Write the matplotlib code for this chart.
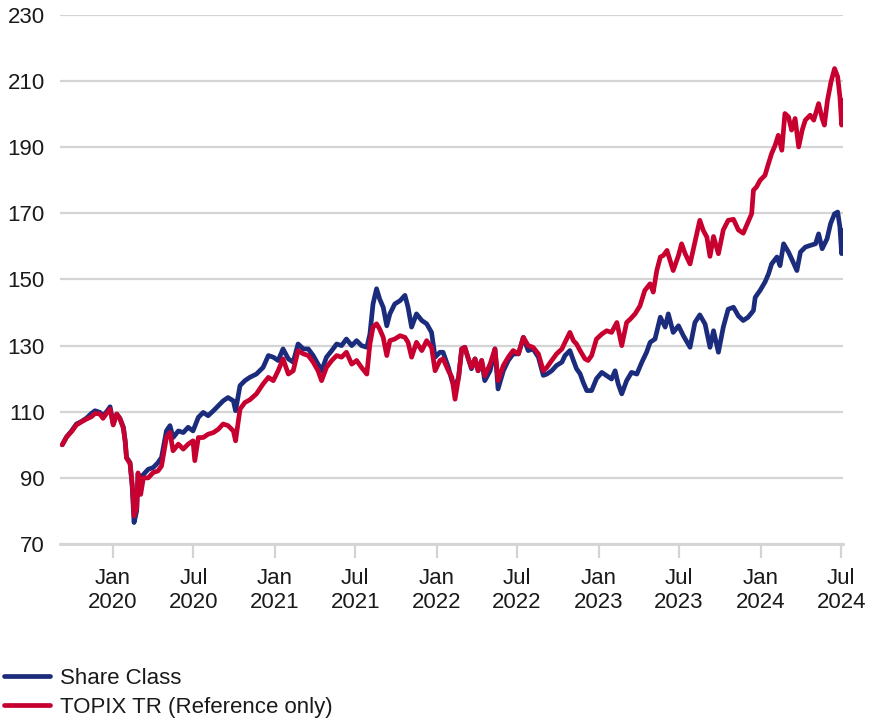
import matplotlib
matplotlib.use("Agg")
import matplotlib.pyplot as plt
import pandas as pd

plt.rcParams['font.family'] = ['Liberation Sans', 'DejaVu Sans']

share_dates = [
 "2019-09-09","2019-09-19","2019-09-30","2019-10-11","2019-10-23","2019-11-03","2019-11-14","2019-11-22",
 "2019-12-03","2019-12-10","2019-12-18","2019-12-26","2020-01-02","2020-01-10","2020-01-17","2020-01-25",
 "2020-01-29","2020-02-01","2020-02-09","2020-02-14","2020-02-18","2020-02-24","2020-02-27","2020-03-04",
 "2020-03-10","2020-03-21","2020-04-01","2020-04-12","2020-04-20","2020-05-01","2020-05-09","2020-05-16",
 "2020-05-28","2020-06-08","2020-06-19","2020-06-30","2020-07-12","2020-07-23","2020-08-03","2020-08-15",
 "2020-08-26","2020-09-06","2020-09-17","2020-09-29","2020-10-04","2020-10-14","2020-10-25","2020-11-05",
 "2020-11-20","2020-12-05","2020-12-17","2020-12-28","2021-01-08","2021-01-19","2021-01-31","2021-02-11",
 "2021-02-22","2021-03-06","2021-03-17","2021-03-28","2021-04-08","2021-04-16","2021-04-27","2021-05-09",
 "2021-05-20","2021-05-31","2021-06-11","2021-06-23","2021-07-04","2021-07-15","2021-07-27","2021-08-03",
 "2021-08-10","2021-08-18","2021-08-25","2021-09-02","2021-09-10","2021-09-17","2021-09-28","2021-10-10",
 "2021-10-21","2021-10-28","2021-11-05","2021-11-16","2021-11-28","2021-12-09","2021-12-20","2021-12-28",
 "2022-01-08","2022-01-15","2022-01-27","2022-02-04","2022-02-11","2022-02-19","2022-02-26","2022-03-05",
 "2022-03-13","2022-03-20","2022-03-28","2022-04-04","2022-04-12","2022-04-19","2022-05-01","2022-05-12",
 "2022-05-19","2022-05-31","2022-06-11","2022-06-22","2022-07-04","2022-07-15","2022-07-26","2022-08-06",
 "2022-08-18","2022-08-29","2022-09-06","2022-09-17","2022-09-28","2022-10-10","2022-10-17","2022-10-28",
 "2022-11-05","2022-11-12","2022-11-20","2022-11-27","2022-12-05","2022-12-16","2022-12-27","2023-01-08",
 "2023-01-19","2023-01-30","2023-02-07","2023-02-14","2023-02-22","2023-03-05","2023-03-16","2023-03-28",
 "2023-04-08","2023-04-19","2023-04-27","2023-05-08","2023-05-20","2023-05-31","2023-06-07","2023-06-18",
 "2023-06-30","2023-07-11","2023-07-26","2023-08-06","2023-08-17","2023-08-29","2023-09-09","2023-09-17",
 "2023-09-28","2023-10-09","2023-10-20","2023-11-01","2023-11-12","2023-11-23","2023-12-04","2023-12-16",
 "2023-12-20","2023-12-31","2024-01-11","2024-01-19","2024-01-26","2024-02-07","2024-02-14","2024-02-22",
 "2024-03-04","2024-03-11","2024-03-23","2024-03-31","2024-04-11","2024-04-22","2024-05-04","2024-05-11",
 "2024-05-19","2024-05-30","2024-06-07","2024-06-16","2024-06-23","2024-06-28","2024-07-02","2024-07-05"]
share_values = [
 100,102.4,104.2,106.3,107.1,108.1,109.5,110.3,
 109.8,108.8,110,111.5,106.3,109.3,108,105.3,
 101.2,96.2,94.6,87,76.5,80,91.1,89,
 91,92.6,93.1,94.6,96.2,104.2,105.8,102.2,
 104.2,103.7,105.3,104.2,108.3,109.8,108.8,110.3,
 111.8,113.3,114.3,113.3,110.3,117.9,119.4,120.4,
 121.4,123.4,127,126.5,125.5,129,126,125,
 130.5,129,129,127,124.4,122.4,126.5,128.5,
 130.5,130,132,130,131.5,130,129.5,133.5,
 142.6,147.2,144.1,141.6,136,139.6,142.6,143.6,
 145.2,141.6,135.6,139.6,137.6,136.6,134,126.5,
 128,128,123.4,119.4,117.4,120.4,129,129.5,
 126,123,126,122.4,125.5,119.4,122.4,129,
 116.9,122.4,125.5,127.5,127.5,132.5,128.5,129,
 126.5,121,121.4,122.4,124,125,127,128.5,
 125.5,123,121.5,118.9,116.4,116.4,120,121.9,
 120.9,119.9,122.4,118.4,115.4,119.4,121.9,121.4,
 124.9,128,131,132,138.6,135.6,139.6,134,
 136,133,129.5,137,139.3,136.5,129.5,134.5,
 128,135.6,141,141.6,139,137.6,138.6,140.6,
 144.6,146.7,149.2,151.7,154.7,156.8,154.2,160.8,
 158.3,156.3,152.7,158.3,159.8,160.3,160.8,163.8,
 159.3,162.3,166.9,169.9,170.4,165.9,157.8,164.8]

topix_dates = [
 "2019-09-09","2019-09-19","2019-09-30","2019-10-11","2019-10-23","2019-11-03","2019-11-14","2019-11-22",
 "2019-12-03","2019-12-10","2019-12-18","2019-12-26","2020-01-02","2020-01-10","2020-01-17","2020-01-25",
 "2020-01-29","2020-02-01","2020-02-09","2020-02-14","2020-02-18","2020-02-24","2020-02-27","2020-03-04",
 "2020-03-10","2020-03-21","2020-04-01","2020-04-12","2020-04-20","2020-05-01","2020-05-09","2020-05-16",
 "2020-05-28","2020-06-08","2020-06-19","2020-06-30","2020-07-04","2020-07-12","2020-07-23","2020-08-03",
 "2020-08-15","2020-08-26","2020-09-06","2020-09-17","2020-09-29","2020-10-04","2020-10-14","2020-10-25",
 "2020-11-05","2020-11-20","2020-12-05","2020-12-17","2020-12-28","2021-01-08","2021-01-19","2021-01-31",
 "2021-02-11","2021-02-22","2021-03-06","2021-03-17","2021-03-28","2021-04-08","2021-04-16","2021-04-27",
 "2021-05-09","2021-05-20","2021-05-31","2021-06-11","2021-06-23","2021-07-04","2021-07-15","2021-07-27",
 "2021-08-03","2021-08-10","2021-08-18","2021-08-25","2021-09-02","2021-09-10","2021-09-17","2021-09-28",
 "2021-10-10","2021-10-21","2021-10-28","2021-11-05","2021-11-16","2021-11-28","2021-12-09","2021-12-20",
 "2021-12-28","2022-01-08","2022-01-15","2022-01-27","2022-02-04","2022-02-11","2022-02-19","2022-02-26",
 "2022-03-05","2022-03-13","2022-03-20","2022-03-28","2022-04-04","2022-04-12","2022-04-19","2022-05-01",
 "2022-05-12","2022-05-19","2022-05-31","2022-06-11","2022-06-22","2022-07-04","2022-07-15","2022-07-26",
 "2022-08-06","2022-08-18","2022-08-29","2022-09-06","2022-09-17","2022-09-28","2022-10-10","2022-10-17",
 "2022-10-28","2022-11-05","2022-11-12","2022-11-20","2022-12-01","2022-12-08","2022-12-16","2022-12-27",
 "2023-01-08","2023-01-19","2023-01-30","2023-02-11","2023-02-22","2023-03-05","2023-03-13","2023-03-24",
 "2023-04-04","2023-04-15","2023-04-27","2023-05-04","2023-05-12","2023-05-20","2023-05-27","2023-06-04",
 "2023-06-11","2023-06-18","2023-06-30","2023-07-07","2023-07-15","2023-07-26","2023-08-06","2023-08-17",
 "2023-08-25","2023-09-02","2023-09-09","2023-09-17","2023-09-28","2023-10-09","2023-10-20","2023-11-01",
 "2023-11-12","2023-11-23","2023-12-04","2023-12-12","2023-12-16","2023-12-23","2023-12-31","2024-01-11",
 "2024-01-19","2024-01-26","2024-02-03","2024-02-10","2024-02-18","2024-02-25","2024-03-04","2024-03-11",
 "2024-03-19","2024-03-27","2024-04-04","2024-04-11","2024-04-22","2024-04-30","2024-05-11","2024-05-19",
 "2024-05-24","2024-05-31","2024-06-08","2024-06-16","2024-06-23","2024-06-28","2024-07-02","2024-07-05"]
topix_values = [
 100,102.4,104,106,107,107.8,108.5,109.5,
 109.3,108,109.5,110.8,106,109.3,108,105,
 101,96,94.3,88,78.5,81,91.5,85,
 90,90,91.6,92.1,93.6,102.2,103.7,98.2,
 100.2,98.7,100.2,101.2,95.2,102.2,102.2,103.2,
 103.7,104.7,106.3,105.8,104.2,101.2,110.8,112.8,
 113.6,115.4,118.4,120.4,119.4,122.4,126,121.4,
 122.4,128.5,127.5,127,125,122.4,119.4,123.4,
 125.5,127,126.5,128,124.4,125.5,123.4,121.4,
 130.5,135.6,136.6,135,132.5,127,131.5,132,
 133,132.5,131,126.5,131,128.5,131.5,129.5,
 122.4,125.5,126,122.4,120.4,113.8,120.4,129,
 129.5,126,123.4,126,122.4,125.5,120.9,124.4,
 129,119.4,124,126.5,128.5,127.5,132.5,130,
 129.5,127.5,122.4,123.4,125.5,127.5,129,131,
 134,131.5,130.5,128.5,126,125.5,127,132,
 133.5,134.5,134,137,130,137,138,139.6,
 142,146.7,148.7,146.2,152.7,156.8,157.3,158.8,
 155.8,152.7,157.3,160.8,157.8,154.7,161.3,167.9,
 164.8,162.8,157,163,157.8,165,167.9,168.2,
 165,164,167.4,169.9,177,178,180,181.5,
 185.1,188.1,190.6,193.6,189.1,200.2,199.2,195.2,
 198.7,190.1,195.2,198.2,199.7,198.2,203.2,198.7,
 196.7,204.2,209.8,213.8,211.3,205.3,196.7,204.2]

series_labels = ["Share Class", "TOPIX TR (Reference only)"]
y_ticks = [70, 90, 110, 130, 150, 170, 190, 210, 230]
x_tick_dates = ["2020-01-01", "2020-07-01", "2021-01-01", "2021-07-01", "2022-01-01",
                "2022-07-01", "2023-01-01", "2023-07-01", "2024-01-01", "2024-07-01"]
x_tick_labels = ["Jan\n2020", "Jul\n2020", "Jan\n2021", "Jul\n2021", "Jan\n2022",
                 "Jul\n2022", "Jan\n2023", "Jul\n2023", "Jan\n2024", "Jul\n2024"]

BLUE = "#1c2c7c"
RED = "#c8002f"
GRID = "#d4d4d4"
TXT = "#1a1a1a"
FS = 16

fig = plt.figure(figsize=(8.75, 7.21), dpi=100)
ax = fig.add_axes([60/875, 1-544/721, (843-60)/875, (544-15)/721])

ax.plot(pd.to_datetime(share_dates), share_values, color=BLUE, lw=3.4,
        solid_joinstyle='round', solid_capstyle='round', label=series_labels[0], zorder=3)
ax.plot(pd.to_datetime(topix_dates), topix_values, color=RED, lw=3.4,
        solid_joinstyle='round', solid_capstyle='round', label=series_labels[1], zorder=4)

ax.set_xlim(pd.Timestamp("2019-09-04"), pd.Timestamp("2024-07-05"))
ax.set_ylim(70, 230)
ax.set_yticks(y_ticks)
ax.set_xticks(pd.to_datetime(x_tick_dates))
ax.set_xticklabels(x_tick_labels)

for s in ax.spines.values():
    s.set_visible(False)
ax.yaxis.grid(True, color=GRID, lw=1.6, zorder=0)
ax.set_axisbelow(True)
ax.axhline(70, color=GRID, lw=2.0, zorder=1, clip_on=False)

ax.tick_params(axis='y', length=0, pad=11, labelsize=FS, labelcolor=TXT)
ax.tick_params(axis='x', length=10, width=1.6, color=GRID, pad=7, labelsize=FS,
               labelcolor=TXT)
for lab in ax.get_xticklabels():
    lab.set_linespacing(1.2)

handles, labels = ax.get_legend_handles_labels()
leg = fig.legend(handles, labels, loc='upper left', bbox_to_anchor=(0.004, 1-668/721),
                 frameon=False, fontsize=FS, handlelength=2.1, handletextpad=0.45,
                 labelspacing=0.35, borderpad=0, borderaxespad=0)
for t in leg.get_texts():
    t.set_color(TXT)

fig.savefig("out.png", dpi=100)
